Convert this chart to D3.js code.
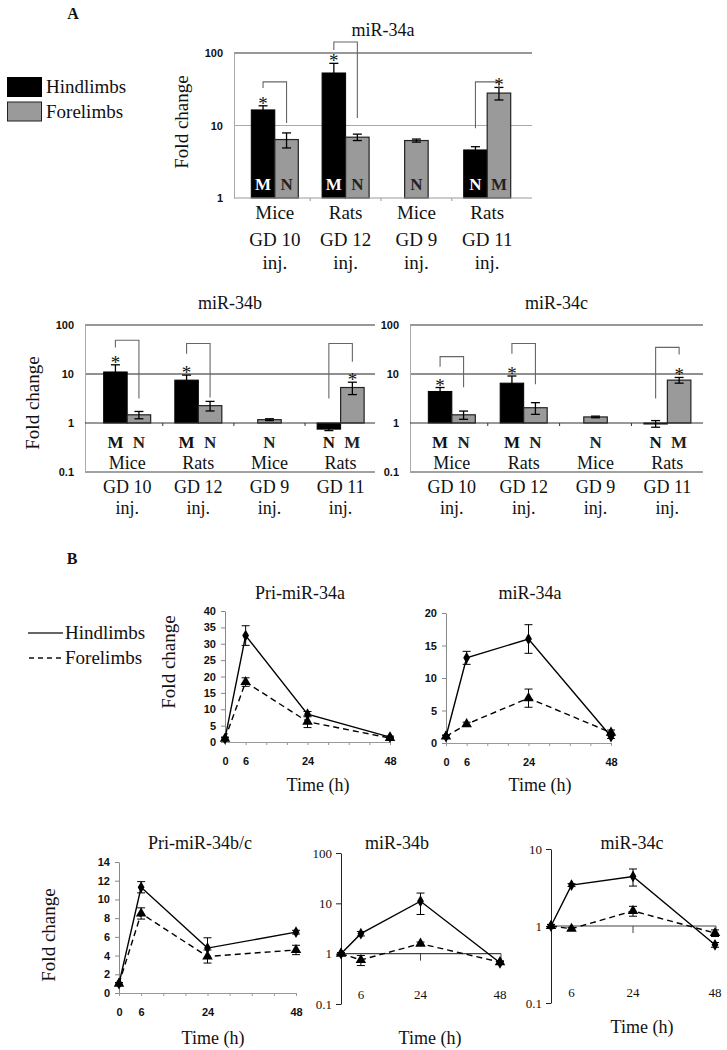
<!DOCTYPE html>
<html>
<head>
<meta charset="utf-8">
<script src="https://cdn.jsdelivr.net/npm/d3@7"></script>
<style>
  body { margin: 0; background: #fff; }
  svg { display: block; }
</style>
</head>
<body>
<script>
// ---- data ----
const species = ["Mice", "Rats", "Mice", "Rats"];
const gdLabels = ["GD 10", "GD 12", "GD 9", "GD 11"];
const hindLetters = ["M", "M", null, "N"];
const foreLetters = ["N", "N", "N", "M"];

// panel A, bar charts (fold change, log scale)
const miR34aHind = [16.4, 53, null, 4.6];
const miR34aHindErr = [2.3, 19, null, 0.5];
const miR34aFore = [6.4, 6.9, 6.2, 28];
const miR34aForeErr = [1.5, 0.7, 0.3, 5.5];
const miR34aBrackets = [[40, 33, 10.8], [142, 110, 12.7], null, [40, 9.2, 33]];

const miR34bHind = [11, 7.5, null, 0.75];
const miR34bHindErr = [4.4, 2.0, null, 0.05];
const miR34bFore = [1.47, 2.26, 1.17, 5.3];
const miR34bForeErr = [0.25, 0.5, 0.05, 1.5];
const miR34bBrackets = [[48.7, 34.8, 3.16], [42, 26, 3.3], null, [42, 3.16, 17.8]];

const miR34cHind = [4.4, 6.5, null, 0.97];
const miR34cHindErr = [0.9, 2.6, null, 0.15];
const miR34cFore = [1.47, 2.05, 1.33, 7.5];
const miR34cForeErr = [0.28, 0.55, 0.05, 1.0];
const miR34cBrackets = [[22.6, 14, 5.35], [42, 26, 6.2], null, [35, 3.16, 25]];

// panel B, time courses
const times = [0, 6, 24, 48];
const priAHind = [1, 32.5, 8.5, 1.5], priAHindErr = [0.5, 3, 0.8, 0.3];
const priAFore = [1, 18.3, 6.2, 1.2], priAForeErr = [0.3, 1.3, 1.8, 0.3];
const matAHind = [1, 13.1, 16, 1], matAHindErr = [0.2, 1.0, 2.2, 0.3];
const matAFore = [1, 2.9, 6.9, 1.6], matAForeErr = [0.2, 0.3, 1.4, 0.4];
const priBCHind = [1, 11.3, 4.8, 6.5], priBCHindErr = [0.1, 0.6, 1.1, 0.2];
const priBCFore = [1, 8.5, 3.9, 4.6], priBCForeErr = [0.1, 0.6, 0.7, 0.5];
const matBHind = [1, 2.5, 11, 0.66], matBHindErr = [0.05, 0.25, 5, 0.04];
const matBFore = [1, 0.75, 1.58, 0.68], matBForeErr = [0.05, 0.17, 0.12, 0.04];
const matCHind = [1, 3.4, 4.4, 0.57], matCHindErr = [0.05, 0.15, 1.1, 0.04];
const matCFore = [1, 0.92, 1.57, 0.81], matCForeErr = [0.04, 0.04, 0.23, 0.08];

const serif = "Liberation Serif, DejaVu Serif, serif";
const sans = "Liberation Sans, DejaVu Sans, sans-serif";

const svg = d3.select("body").append("svg")
  .attr("width", 727)
  .attr("height", 1050);

svg.append("rect").attr("width", 727).attr("height", 1050).attr("fill", "#fff");

function text(x, y, s, size, opts = {}) {
  const t = svg.append("text")
    .attr("x", x).attr("y", y)
    .style("font-family", opts.family || serif)
    .style("font-size", size + "px")
    .style("font-weight", opts.bold ? "bold" : "normal")
    .attr("fill", opts.fill || "#111")
    .attr("text-anchor", opts.anchor || "middle")
    .text(s);
  if (opts.rotate) t.attr("transform", `rotate(-90,${x},${y})`);
  return t;
}

// ---------- bar panels ----------
function barPanel(p) {
  const g = svg.append("g");
  const x = d3.scaleBand().domain(d3.range(4)).range(p.band);
  const y = d3.scaleLog().domain(p.yDomain).range(p.yRange);
  const bw = 23.5;

  // horizontal lines
  p.lines.forEach(l => {
    g.append("line")
      .attr("x1", p.left).attr("x2", p.right)
      .attr("y1", y(l.v)).attr("y2", y(l.v))
      .attr("stroke", l.c).attr("stroke-width", 1.2);
  });

  // y axis
  const ya = g.append("g")
    .attr("transform", `translate(${p.left},0)`)
    .call(d3.axisLeft(y).tickValues(p.yTicks).tickFormat(d3.format("~g")).tickSize(0).tickPadding(11));
  ya.select(".domain").attr("stroke", "#aaa");
  ya.selectAll("text").style("font-family", sans).style("font-weight", "bold")
    .style("font-size", "11px").attr("fill", "#111");

  const center = i => x(i) + x.bandwidth() / 2;
  const hindX = i => center(i) - bw;
  const foreX = i => p.hind[i] == null ? center(i) - bw / 2 : center(i);

  // bars
  const base = y(1);
  p.hind.forEach((v, i) => {
    if (v == null) return;
    g.append("rect")
      .attr("x", hindX(i)).attr("width", bw)
      .attr("y", Math.min(y(v), base)).attr("height", Math.max(Math.abs(base - y(v)), 1))
      .attr("fill", "#000").attr("stroke", "#000");
  });
  p.fore.forEach((v, i) => {
    g.append("rect")
      .attr("x", foreX(i)).attr("width", bw)
      .attr("y", Math.min(y(v), base)).attr("height", Math.abs(base - y(v)))
      .attr("fill", "#9a9a9a").attr("stroke", "#222").attr("stroke-width", 1.2);
  });

  // baseline axis with group ticks
  g.append("line").attr("x1", p.left).attr("x2", p.right)
    .attr("y1", base).attr("y2", base).attr("stroke", p.baseColor).attr("stroke-width", 1.2);
  [1, 2, 3].forEach(i => {
    g.append("line").attr("x1", x(i)).attr("x2", x(i))
      .attr("y1", base).attr("y2", base + 3).attr("stroke", p.baseColor);
  });

  // error bars
  function err(cx, v, e) {
    const e1 = y(v + e), e2 = y(Math.max(v - e, p.yDomain[0]));
    g.append("line").attr("x1", cx).attr("x2", cx).attr("y1", e1).attr("y2", e2)
      .attr("stroke", "#000").attr("stroke-width", 1.3);
    [e1, e2].forEach(yy => g.append("line").attr("x1", cx - 4.5).attr("x2", cx + 4.5)
      .attr("y1", yy).attr("y2", yy).attr("stroke", "#000").attr("stroke-width", 1.3));
  }
  p.hind.forEach((v, i) => { if (v != null) err(hindX(i) + bw / 2, v, p.hindErr[i]); });
  p.fore.forEach((v, i) => err(foreX(i) + bw / 2, v, p.foreErr[i]));

  // significance brackets and asterisks
  p.brackets.forEach((b, i) => {
    if (!b) return;
    const xl = hindX(i) + bw / 2, xr = foreX(i) + bw / 2;
    g.append("path")
      .attr("d", `M${xl},${y(b[1])}V${y(b[0])}H${xr}V${y(b[2])}`)
      .attr("fill", "none").attr("stroke", "#666").attr("stroke-width", 1.1);
    const sig = hindLetters[i] === "M" ? [xl, p.hind[i] + p.hindErr[i]] : [xr, p.fore[i] + p.foreErr[i]];
    text(sig[0], y(sig[1]) + 4, "*", 19);
  });

  // M / N letters
  p.hind.forEach((v, i) => {
    if (v == null) return;
    text(hindX(i) + bw / 2, p.letterY, hindLetters[i], 17,
      { bold: true, fill: p.lettersInside ? "#fff" : "#111" });
  });
  p.fore.forEach((v, i) => {
    text(foreX(i) + bw / 2, p.letterY, foreLetters[i], 17, { bold: true, fill: "#222" });
  });

  // category labels
  species.forEach((s, i) => text(center(i), p.labelY[0], s, p.labelSize));
  gdLabels.forEach((s, i) => text(center(i), p.labelY[1], s, p.labelSize));
  species.forEach((s, i) => text(center(i), p.labelY[2], "inj.", p.labelSize));

  text((p.left + p.right) / 2, p.titleY, p.title, 18);
}

barPanel({
  title: "miR-34a", titleY: 36,
  band: [239.4, 522.6], left: 234, right: 532,
  yDomain: [1, 100], yRange: [198, 53], yTicks: [1, 10, 100],
  lines: [{ v: 100, c: "#333" }, { v: 10, c: "#aaa" }], baseColor: "#999",
  hind: miR34aHind, hindErr: miR34aHindErr, fore: miR34aFore, foreErr: miR34aForeErr,
  brackets: miR34aBrackets,
  letterY: 190, lettersInside: true,
  labelY: [219, 246, 269], labelSize: 19
});

barPanel({
  title: "miR-34b", titleY: 309,
  band: [91.6, 376.2], left: 85, right: 375,
  yDomain: [0.1, 100], yRange: [472, 325], yTicks: [0.1, 1, 10, 100],
  lines: [{ v: 100, c: "#333" }, { v: 10, c: "#222" }, { v: 0.1, c: "#444" }], baseColor: "#333",
  hind: miR34bHind, hindErr: miR34bHindErr, fore: miR34bFore, foreErr: miR34bForeErr,
  brackets: miR34bBrackets,
  letterY: 448, lettersInside: false,
  labelY: [469, 493, 514], labelSize: 18
});

barPanel({
  title: "miR-34c", titleY: 309,
  band: [415.9, 703.3], left: 410, right: 703,
  yDomain: [0.1, 100], yRange: [472, 325], yTicks: [0.1, 1, 10, 100],
  lines: [{ v: 100, c: "#333" }, { v: 10, c: "#222" }, { v: 0.1, c: "#444" }], baseColor: "#333",
  hind: miR34cHind, hindErr: miR34cHindErr, fore: miR34cFore, foreErr: miR34cForeErr,
  brackets: miR34cBrackets,
  letterY: 448, lettersInside: false,
  labelY: [469, 493, 514], labelSize: 18
});

// panel A legend + labels
svg.append("rect").attr("x", 7).attr("y", 77).attr("width", 35).attr("height", 20).attr("fill", "#000");
svg.append("rect").attr("x", 7.5).attr("y", 102).attr("width", 34).attr("height", 19)
  .attr("fill", "#9a9a9a").attr("stroke", "#222");
text(46, 93, "Hindlimbs", 19, { anchor: "start" });
text(46, 118, "Forelimbs", 19, { anchor: "start" });
text(73, 19, "A", 16, { bold: true });
text(188, 122, "Fold change", 19, { rotate: true });
text(39, 403, "Fold change", 19, { rotate: true });
text(72, 564, "B", 16, { bold: true });

// ---------- line panels ----------
function linePanel(p) {
  const g = svg.append("g");
  const x = d3.scaleLinear().domain([0, 48]).range(p.xRange);
  const y = p.log
    ? d3.scaleLog().domain(p.yDomain).range(p.yRange)
    : d3.scaleLinear().domain(p.yDomain).range(p.yRange);

  if (p.log) {
    const ya = g.append("g").attr("transform", `translate(${p.xRange[0]},0)`)
      .call(d3.axisLeft(y).tickValues(p.yTicks).tickFormat(d3.format("~g")).tickSize(5).tickSizeOuter(0).tickPadding(4));
    ya.selectAll("path,line").attr("stroke", "#222");
    ya.selectAll("text").style("font-family", serif).style("font-size", "13px").attr("fill", "#111");
    // reference line at 1
    g.append("line").attr("x1", x(0)).attr("x2", x(48) + 1)
      .attr("y1", y(1)).attr("y2", y(1)).attr("stroke", "#444").attr("stroke-width", 1.2);
    [24, 48].forEach(t => g.append("line").attr("x1", x(t) + (t === 48 ? 1 : 0)).attr("x2", x(t) + (t === 48 ? 1 : 0))
      .attr("y1", y(1)).attr("y2", y(1) + 7).attr("stroke", "#444"));
    [6, 24, 48].forEach(t => text(x(t), p.tickLabelY, t, 13));
  } else {
    const ya = g.append("g").attr("transform", `translate(${p.xRange[0]},0)`)
      .call(d3.axisLeft(y).tickValues(p.yTicks).tickSize(4).tickSizeOuter(0).tickPadding(5));
    ya.selectAll("path,line").attr("stroke", "#888");
    ya.selectAll("text").style("font-family", sans).style("font-weight", "bold")
      .style("font-size", "11px").attr("fill", "#111");
    const xa = g.append("g").attr("transform", `translate(0,${p.yRange[0]})`)
      .call(d3.axisBottom(x).tickValues(d3.range(0, 49, 6)).tickSize(3).tickSizeOuter(0).tickPadding(12)
        .tickFormat(d => times.includes(d) ? d : ""));
    xa.selectAll("path,line").attr("stroke", "#999");
    xa.selectAll("text").style("font-family", sans).style("font-weight", "bold")
      .style("font-size", "11px").attr("fill", "#111");
  }

  const line = d3.line().x((d, i) => x(times[i])).y(d => y(d));

  function series(vals, errs, dashed, symbol) {
    g.append("path").datum(vals).attr("d", line)
      .attr("fill", "none").attr("stroke", "#000").attr("stroke-width", 1.4)
      .attr("stroke-dasharray", dashed ? "6,4" : null);
    vals.forEach((v, i) => {
      const cx = x(times[i]);
      const e1 = y(v + errs[i]), e2 = y(v - errs[i]);
      g.append("line").attr("x1", cx).attr("x2", cx).attr("y1", e1).attr("y2", e2)
        .attr("stroke", "#000").attr("stroke-width", 1);
      [e1, e2].forEach(yy => g.append("line").attr("x1", cx - 4).attr("x2", cx + 4)
        .attr("y1", yy).attr("y2", yy).attr("stroke", "#000").attr("stroke-width", 1));
      g.append("path").attr("d", d3.symbol().type(symbol).size(symbol === d3.symbolTriangle ? 48 : 40)())
        .attr("transform", `translate(${cx},${y(v)})`).attr("fill", "#000");
    });
  }
  series(p.fore, p.foreErr, true, d3.symbolTriangle);
  series(p.hind, p.hindErr, false, d3.symbolDiamond);

  text(p.titleX, p.titleY, p.title, 18);
  text(p.timeX, p.timeY, "Time (h)", 18);
}

linePanel({
  title: "Pri-miR-34a", titleX: 300, titleY: 599,
  xRange: [225, 390], yDomain: [0, 40], yRange: [742, 611], yTicks: d3.range(0, 41, 5),
  hind: priAHind, hindErr: priAHindErr, fore: priAFore, foreErr: priAForeErr,
  timeX: 318, timeY: 791
});
linePanel({
  title: "miR-34a", titleX: 530, titleY: 599,
  xRange: [446, 611], yDomain: [0, 20], yRange: [743, 613], yTicks: d3.range(0, 21, 5),
  hind: matAHind, hindErr: matAHindErr, fore: matAFore, foreErr: matAForeErr,
  timeX: 540, timeY: 791
});
linePanel({
  title: "Pri-miR-34b/c", titleX: 200, titleY: 849,
  xRange: [119, 296], yDomain: [0, 14], yRange: [993, 862], yTicks: d3.range(0, 15, 2),
  hind: priBCHind, hindErr: priBCHindErr, fore: priBCFore, foreErr: priBCForeErr,
  timeX: 213, timeY: 1044
});
linePanel({
  title: "miR-34b", titleX: 397, titleY: 849, log: true,
  xRange: [341, 500], yDomain: [0.1, 100], yRange: [1004, 853], yTicks: [0.1, 1, 10, 100],
  tickLabelY: 999,
  hind: matBHind, hindErr: matBHindErr, fore: matBFore, foreErr: matBForeErr,
  timeX: 430, timeY: 1044
});
linePanel({
  title: "miR-34c", titleX: 632, titleY: 849, log: true,
  xRange: [551, 715], yDomain: [0.1, 10], yRange: [1003, 849], yTicks: [0.1, 1, 10],
  tickLabelY: 997,
  hind: matCHind, hindErr: matCHindErr, fore: matCFore, foreErr: matCForeErr,
  timeX: 642, timeY: 1033
});

// panel B legend
svg.append("line").attr("x1", 28).attr("x2", 63).attr("y1", 633).attr("y2", 633)
  .attr("stroke", "#333").attr("stroke-width", 1.3);
svg.append("line").attr("x1", 29).attr("x2", 63).attr("y1", 658).attr("y2", 658)
  .attr("stroke", "#111").attr("stroke-width", 1.3).attr("stroke-dasharray", "5,4");
text(65, 639, "Hindlimbs", 19, { anchor: "start" });
text(65, 664, "Forelimbs", 19, { anchor: "start" });
text(175, 662, "Fold change", 19, { rotate: true });
text(55, 935, "Fold change", 19, { rotate: true });
</script>
</body>
</html>
